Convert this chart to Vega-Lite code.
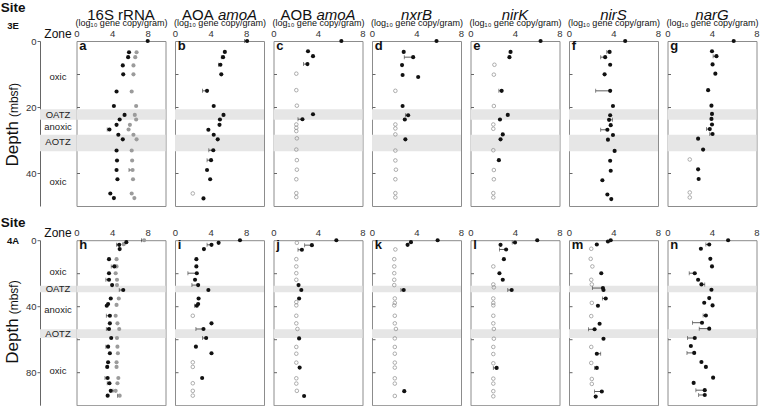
{
"$schema":"https://vega.github.io/schema/vega-lite/v6.json",
"padding":{"left":0,"top":0,"right":0,"bottom":0},
"datasets":{
"bands":[{"s":"3E","y1":20.7,"y2":23.9},{"s":"3E","y1":28.4,"y2":33.4},{"s":"4A","y1":27.6,"y2":31.5},{"s":"4A","y1":54,"y2":59.3}],
"zones":[{"s":"3E","z":"oxic","d":11},{"s":"3E","z":"OATZ","d":22.4},{"s":"3E","z":"anoxic","d":26.2},{"s":"3E","z":"AOTZ","d":30.5},{"s":"3E","z":"oxic","d":42.7},
{"s":"4A","z":"oxic","d":19.4},{"s":"4A","z":"OATZ","d":29.6},{"s":"4A","z":"anoxic","d":42.3},{"s":"4A","z":"AOTZ","d":56.9},{"s":"4A","z":"oxic","d":79.4}],
"pts":[
{"s":"3E","g":"16S","k":"d","d":0,"v":8.0},{"s":"3E","g":"16S","k":"d","d":3.4,"v":5.9},{"s":"3E","g":"16S","k":"d","d":4.9,"v":5.8},{"s":"3E","g":"16S","k":"d","d":7.4,"v":5.2},{"s":"3E","g":"16S","k":"d","d":10.1,"v":5.25},{"s":"3E","g":"16S","k":"d","d":15.3,"v":4.5},{"s":"3E","g":"16S","k":"d","d":19.7,"v":4.2},{"s":"3E","g":"16S","k":"d","d":22.4,"v":5.4},{"s":"3E","g":"16S","k":"d","d":23.8,"v":4.85},{"s":"3E","g":"16S","k":"d","d":25.4,"v":4.5},{"s":"3E","g":"16S","k":"d","d":26.8,"v":3.7,"lo":3.45},{"s":"3E","g":"16S","k":"d","d":28.4,"v":4.7},{"s":"3E","g":"16S","k":"d","d":29.8,"v":5.2},{"s":"3E","g":"16S","k":"d","d":33.2,"v":4.5},{"s":"3E","g":"16S","k":"d","d":36.2,"v":4.55},{"s":"3E","g":"16S","k":"d","d":39.1,"v":4.5},{"s":"3E","g":"16S","k":"d","d":41.9,"v":4.6},{"s":"3E","g":"16S","k":"d","d":46.2,"v":3.8},{"s":"3E","g":"16S","k":"d","d":47.6,"v":4.2},
{"s":"3E","g":"16S","k":"a","d":3.4,"v":6.75},{"s":"3E","g":"16S","k":"a","d":4.9,"v":6.6},{"s":"3E","g":"16S","k":"a","d":7.4,"v":6.4},{"s":"3E","g":"16S","k":"a","d":10.1,"v":6.4},{"s":"3E","g":"16S","k":"a","d":15.3,"v":6.2},{"s":"3E","g":"16S","k":"a","d":19.7,"v":6.7},{"s":"3E","g":"16S","k":"a","d":22.4,"v":6.55},{"s":"3E","g":"16S","k":"a","d":23.8,"v":6.7},{"s":"3E","g":"16S","k":"a","d":25.4,"v":6.0},{"s":"3E","g":"16S","k":"a","d":26.8,"v":5.85},{"s":"3E","g":"16S","k":"a","d":28.4,"v":6.4},{"s":"3E","g":"16S","k":"a","d":29.8,"v":6.75},{"s":"3E","g":"16S","k":"a","d":33.2,"v":6.2},{"s":"3E","g":"16S","k":"a","d":36.2,"v":6.25},{"s":"3E","g":"16S","k":"a","d":39.1,"v":6.3,"lo":5.9},{"s":"3E","g":"16S","k":"a","d":41.9,"v":6.35},{"s":"3E","g":"16S","k":"a","d":46.2,"v":6.2},{"s":"3E","g":"16S","k":"a","d":47.6,"v":6.5},
{"s":"3E","g":"AOA","k":"d","d":0,"v":8.1,"lo":7.8},{"s":"3E","g":"AOA","k":"d","d":3.3,"v":5.6},{"s":"3E","g":"AOA","k":"d","d":4.9,"v":5.4,"lo":5.2},{"s":"3E","g":"AOA","k":"d","d":7.2,"v":5.1,"lo":4.9},{"s":"3E","g":"AOA","k":"d","d":10.1,"v":5.2},{"s":"3E","g":"AOA","k":"d","d":15.1,"v":3.6,"lo":3.1},{"s":"3E","g":"AOA","k":"d","d":19.7,"v":4.35},{"s":"3E","g":"AOA","k":"d","d":22.4,"v":5.45},{"s":"3E","g":"AOA","k":"d","d":23.8,"v":5.05},{"s":"3E","g":"AOA","k":"d","d":25.4,"v":5.0},{"s":"3E","g":"AOA","k":"d","d":26.9,"v":3.75},{"s":"3E","g":"AOA","k":"d","d":28.4,"v":4.35},{"s":"3E","g":"AOA","k":"d","d":29.8,"v":4.8},{"s":"3E","g":"AOA","k":"d","d":33.1,"v":4.3,"lo":3.8},{"s":"3E","g":"AOA","k":"d","d":36.1,"v":4.05,"lo":3.6},{"s":"3E","g":"AOA","k":"d","d":39.1,"v":3.6},{"s":"3E","g":"AOA","k":"d","d":41.9,"v":3.95},{"s":"3E","g":"AOA","k":"n","d":46.2,"v":2.0},{"s":"3E","g":"AOA","k":"d","d":47.7,"v":3.2},
{"s":"3E","g":"AOB","k":"d","d":0,"v":6.1},{"s":"3E","g":"AOB","k":"d","d":3.1,"v":3.1},{"s":"3E","g":"AOB","k":"d","d":4.6,"v":3.55},{"s":"3E","g":"AOB","k":"d","d":7.0,"v":3.05,"lo":2.7},{"s":"3E","g":"AOB","k":"n","d":9.9,"v":2.05},{"s":"3E","g":"AOB","k":"n","d":14.9,"v":2.05},{"s":"3E","g":"AOB","k":"n","d":19.6,"v":2.1},{"s":"3E","g":"AOB","k":"d","d":22.2,"v":3.55},{"s":"3E","g":"AOB","k":"d","d":23.7,"v":2.6,"lo":2.2},{"s":"3E","g":"AOB","k":"n","d":25.3,"v":2.05},{"s":"3E","g":"AOB","k":"n","d":26.3,"v":2.05},{"s":"3E","g":"AOB","k":"n","d":27.3,"v":2.05},{"s":"3E","g":"AOB","k":"n","d":29.5,"v":2.1},{"s":"3E","g":"AOB","k":"n","d":32.9,"v":2.05},{"s":"3E","g":"AOB","k":"n","d":36.1,"v":2.1},{"s":"3E","g":"AOB","k":"n","d":39.0,"v":2.1},{"s":"3E","g":"AOB","k":"n","d":41.9,"v":2.05},{"s":"3E","g":"AOB","k":"n","d":46.1,"v":2.05},{"s":"3E","g":"AOB","k":"n","d":47.3,"v":2.05},
{"s":"3E","g":"nxrB","k":"d","d":0,"v":5.8},{"s":"3E","g":"nxrB","k":"d","d":3.3,"v":2.85},{"s":"3E","g":"nxrB","k":"d","d":4.9,"v":3.7,"lo":2.9},{"s":"3E","g":"nxrB","k":"d","d":7.3,"v":2.7},{"s":"3E","g":"nxrB","k":"d","d":10.3,"v":2.75},{"s":"3E","g":"nxrB","k":"d","d":10.9,"v":4.15},{"s":"3E","g":"nxrB","k":"n","d":15.1,"v":2.1},{"s":"3E","g":"nxrB","k":"d","d":19.7,"v":2.75},{"s":"3E","g":"nxrB","k":"d","d":22.5,"v":3.25,"lo":3.0},{"s":"3E","g":"nxrB","k":"d","d":23.8,"v":2.95},{"s":"3E","g":"nxrB","k":"n","d":25.3,"v":2.1},{"s":"3E","g":"nxrB","k":"n","d":26.5,"v":2.1},{"s":"3E","g":"nxrB","k":"n","d":28.3,"v":2.1},{"s":"3E","g":"nxrB","k":"d","d":29.8,"v":3.0},{"s":"3E","g":"nxrB","k":"n","d":33.2,"v":2.1},{"s":"3E","g":"nxrB","k":"n","d":36.2,"v":2.1},{"s":"3E","g":"nxrB","k":"n","d":39.0,"v":2.15},{"s":"3E","g":"nxrB","k":"n","d":41.9,"v":2.1},{"s":"3E","g":"nxrB","k":"n","d":46.1,"v":2.1},{"s":"3E","g":"nxrB","k":"n","d":47.4,"v":2.1},
{"s":"3E","g":"nirK","k":"d","d":0,"v":6.3},{"s":"3E","g":"nirK","k":"d","d":3.3,"v":3.6},{"s":"3E","g":"nirK","k":"d","d":4.9,"v":3.5},{"s":"3E","g":"nirK","k":"n","d":7.2,"v":2.15},{"s":"3E","g":"nirK","k":"n","d":10.2,"v":2.1},{"s":"3E","g":"nirK","k":"d","d":15.1,"v":2.8,"lo":2.55},{"s":"3E","g":"nirK","k":"n","d":19.7,"v":2.1},{"s":"3E","g":"nirK","k":"d","d":22.4,"v":3.35},{"s":"3E","g":"nirK","k":"d","d":23.8,"v":2.65},{"s":"3E","g":"nirK","k":"n","d":25.3,"v":2.05},{"s":"3E","g":"nirK","k":"n","d":26.6,"v":2.05},{"s":"3E","g":"nirK","k":"d","d":28.3,"v":2.9},{"s":"3E","g":"nirK","k":"d","d":29.8,"v":2.7},{"s":"3E","g":"nirK","k":"n","d":33.1,"v":2.05},{"s":"3E","g":"nirK","k":"d","d":36.1,"v":2.55},{"s":"3E","g":"nirK","k":"n","d":39.1,"v":2.1},{"s":"3E","g":"nirK","k":"n","d":41.9,"v":2.1},{"s":"3E","g":"nirK","k":"n","d":46.1,"v":2.05},{"s":"3E","g":"nirK","k":"n","d":47.4,"v":2.05},
{"s":"3E","g":"nirS","k":"d","d":0,"v":5.05},{"s":"3E","g":"nirS","k":"d","d":3.3,"v":3.65,"lo":3.4},{"s":"3E","g":"nirS","k":"d","d":4.9,"v":3.25,"lo":2.85},{"s":"3E","g":"nirS","k":"d","d":7.2,"v":3.7},{"s":"3E","g":"nirS","k":"d","d":10.1,"v":3.2},{"s":"3E","g":"nirS","k":"d","d":15.1,"v":3.7,"lo":2.4},{"s":"3E","g":"nirS","k":"d","d":19.7,"v":3.95},{"s":"3E","g":"nirS","k":"d","d":22.5,"v":3.7},{"s":"3E","g":"nirS","k":"d","d":23.9,"v":3.6,"lo":3.9},{"s":"3E","g":"nirS","k":"d","d":25.5,"v":3.75},{"s":"3E","g":"nirS","k":"d","d":26.9,"v":3.45,"lo":2.85},{"s":"3E","g":"nirS","k":"d","d":28.5,"v":3.95},{"s":"3E","g":"nirS","k":"d","d":29.9,"v":3.5},{"s":"3E","g":"nirS","k":"d","d":33.3,"v":4.1},{"s":"3E","g":"nirS","k":"d","d":36.3,"v":3.7},{"s":"3E","g":"nirS","k":"d","d":39.3,"v":3.75},{"s":"3E","g":"nirS","k":"d","d":42.2,"v":3.0},{"s":"3E","g":"nirS","k":"d","d":46.5,"v":3.45},{"s":"3E","g":"nirS","k":"d","d":47.9,"v":3.8},
{"s":"3E","g":"narG","k":"d","d":0,"v":5.95},{"s":"3E","g":"narG","k":"d","d":3.1,"v":4.0},{"s":"3E","g":"narG","k":"d","d":4.6,"v":4.4,"lo":4.1},{"s":"3E","g":"narG","k":"d","d":7.1,"v":4.05},{"s":"3E","g":"narG","k":"d","d":9.9,"v":4.3},{"s":"3E","g":"narG","k":"d","d":14.9,"v":3.65},{"s":"3E","g":"narG","k":"d","d":19.6,"v":3.95},{"s":"3E","g":"narG","k":"d","d":22.1,"v":4.0},{"s":"3E","g":"narG","k":"d","d":23.6,"v":3.95},{"s":"3E","g":"narG","k":"d","d":25.3,"v":4.0},{"s":"3E","g":"narG","k":"d","d":26.7,"v":3.8,"lo":3.5},{"s":"3E","g":"narG","k":"d","d":28.2,"v":4.05,"lo":3.8},{"s":"3E","g":"narG","k":"d","d":29.6,"v":2.75},{"s":"3E","g":"narG","k":"d","d":32.9,"v":3.2},{"s":"3E","g":"narG","k":"n","d":35.9,"v":2.0},{"s":"3E","g":"narG","k":"d","d":38.9,"v":2.75},{"s":"3E","g":"narG","k":"d","d":41.8,"v":2.8},{"s":"3E","g":"narG","k":"n","d":45.9,"v":2.0},{"s":"3E","g":"narG","k":"n","d":47.4,"v":2.0},
{"s":"4A","g":"16S","k":"d","d":1.2,"v":5.6},{"s":"4A","g":"16S","k":"d","d":2.8,"v":4.8,"lo":4.5},{"s":"4A","g":"16S","k":"d","d":5.4,"v":4.85},{"s":"4A","g":"16S","k":"d","d":11.5,"v":3.65},{"s":"4A","g":"16S","k":"d","d":15.9,"v":4.25,"lo":3.9},{"s":"4A","g":"16S","k":"d","d":20,"v":3.65},{"s":"4A","g":"16S","k":"d","d":24,"v":3.65,"lo":3.3},{"s":"4A","g":"16S","k":"d","d":27.2,"v":4.0},{"s":"4A","g":"16S","k":"d","d":30.2,"v":5.25,"lo":4.8},{"s":"4A","g":"16S","k":"d","d":35.3,"v":3.85},{"s":"4A","g":"16S","k":"d","d":38.7,"v":3.55},{"s":"4A","g":"16S","k":"d","d":39.7,"v":3.4},{"s":"4A","g":"16S","k":"d","d":45.8,"v":3.75,"lo":3.35},{"s":"4A","g":"16S","k":"d","d":50.4,"v":3.75},{"s":"4A","g":"16S","k":"d","d":53.8,"v":3.65,"lo":3.35},{"s":"4A","g":"16S","k":"d","d":59.3,"v":3.9},{"s":"4A","g":"16S","k":"d","d":64.5,"v":3.55,"lo":3.3},{"s":"4A","g":"16S","k":"d","d":68.5,"v":3.75},{"s":"4A","g":"16S","k":"d","d":74,"v":3.55},{"s":"4A","g":"16S","k":"d","d":76.8,"v":3.45},{"s":"4A","g":"16S","k":"d","d":83.5,"v":3.5,"lo":3.2},{"s":"4A","g":"16S","k":"d","d":86.7,"v":3.7,"lo":3.45},{"s":"4A","g":"16S","k":"d","d":91.3,"v":3.85},{"s":"4A","g":"16S","k":"d","d":94.2,"v":3.5},
{"s":"4A","g":"16S","k":"a","d":0,"v":7.6,"lo":7.3},{"s":"4A","g":"16S","k":"a","d":2.4,"v":5.3},{"s":"4A","g":"16S","k":"a","d":11.5,"v":4.5},{"s":"4A","g":"16S","k":"a","d":15.9,"v":4.5},{"s":"4A","g":"16S","k":"a","d":20,"v":4.4},{"s":"4A","g":"16S","k":"a","d":24,"v":4.55},{"s":"4A","g":"16S","k":"a","d":27.2,"v":4.55},{"s":"4A","g":"16S","k":"a","d":35.3,"v":4.75},{"s":"4A","g":"16S","k":"a","d":39.2,"v":4.5},{"s":"4A","g":"16S","k":"a","d":45.8,"v":4.4},{"s":"4A","g":"16S","k":"a","d":50.4,"v":4.6},{"s":"4A","g":"16S","k":"a","d":53.8,"v":4.8},{"s":"4A","g":"16S","k":"a","d":59.3,"v":4.55},{"s":"4A","g":"16S","k":"a","d":64.5,"v":4.6},{"s":"4A","g":"16S","k":"a","d":68.5,"v":4.65},{"s":"4A","g":"16S","k":"a","d":74,"v":4.5},{"s":"4A","g":"16S","k":"a","d":76.8,"v":4.5},{"s":"4A","g":"16S","k":"a","d":83.5,"v":4.7},{"s":"4A","g":"16S","k":"a","d":86.7,"v":4.6},{"s":"4A","g":"16S","k":"a","d":91.3,"v":4.4,"lo":4.1},{"s":"4A","g":"16S","k":"a","d":94.2,"v":4.85,"lo":4.6},
{"s":"4A","g":"AOA","k":"d","d":0,"v":7.3},{"s":"4A","g":"AOA","k":"d","d":1.6,"v":4.9},{"s":"4A","g":"AOA","k":"d","d":2.8,"v":4.1,"lo":3.6},{"s":"4A","g":"AOA","k":"d","d":5.4,"v":3.25},{"s":"4A","g":"AOA","k":"d","d":11.5,"v":2.4},{"s":"4A","g":"AOA","k":"d","d":15.9,"v":2.4},{"s":"4A","g":"AOA","k":"d","d":20,"v":2.45,"lo":1.45},{"s":"4A","g":"AOA","k":"d","d":24,"v":2.25},{"s":"4A","g":"AOA","k":"d","d":27.2,"v":2.6,"lo":1.9},{"s":"4A","g":"AOA","k":"d","d":30.2,"v":3.75},{"s":"4A","g":"AOA","k":"d","d":35.3,"v":2.65},{"s":"4A","g":"AOA","k":"d","d":38.7,"v":2.6},{"s":"4A","g":"AOA","k":"d","d":39.7,"v":2.45,"lo":2.2},{"s":"4A","g":"AOA","k":"n","d":45.8,"v":2.0},{"s":"4A","g":"AOA","k":"d","d":50.4,"v":4.1},{"s":"4A","g":"AOA","k":"d","d":53.8,"v":3.2,"lo":2.35},{"s":"4A","g":"AOA","k":"d","d":59.3,"v":3.5,"lo":3.1},{"s":"4A","g":"AOA","k":"d","d":64.5,"v":2.35},{"s":"4A","g":"AOA","k":"d","d":68.5,"v":4.1},{"s":"4A","g":"AOA","k":"n","d":74,"v":2.0},{"s":"4A","g":"AOA","k":"n","d":76.8,"v":2.0},{"s":"4A","g":"AOA","k":"d","d":83.5,"v":3.05},{"s":"4A","g":"AOA","k":"n","d":86.7,"v":2.0},{"s":"4A","g":"AOA","k":"n","d":91.3,"v":2.0},{"s":"4A","g":"AOA","k":"n","d":94.2,"v":2.0},
{"s":"4A","g":"AOB","k":"d","d":0,"v":5.65},{"s":"4A","g":"AOB","k":"n","d":1.6,"v":2.1},{"s":"4A","g":"AOB","k":"d","d":3.0,"v":3.45,"lo":2.8},{"s":"4A","g":"AOB","k":"d","d":5.8,"v":2.55,"lo":2.2},{"s":"4A","g":"AOB","k":"n","d":11.5,"v":2.05},{"s":"4A","g":"AOB","k":"n","d":15.9,"v":2.05},{"s":"4A","g":"AOB","k":"n","d":20,"v":2.05},{"s":"4A","g":"AOB","k":"n","d":24,"v":2.05},{"s":"4A","g":"AOB","k":"d","d":27.2,"v":2.25},{"s":"4A","g":"AOB","k":"d","d":30.2,"v":2.5},{"s":"4A","g":"AOB","k":"d","d":35.3,"v":2.3},{"s":"4A","g":"AOB","k":"n","d":37.5,"v":2.05},{"s":"4A","g":"AOB","k":"n","d":39.5,"v":2.05},{"s":"4A","g":"AOB","k":"n","d":45.8,"v":2.05},{"s":"4A","g":"AOB","k":"n","d":50.4,"v":2.05},{"s":"4A","g":"AOB","k":"n","d":53.8,"v":2.15},{"s":"4A","g":"AOB","k":"d","d":59.5,"v":2.3},{"s":"4A","g":"AOB","k":"n","d":64.7,"v":2.05},{"s":"4A","g":"AOB","k":"n","d":68.8,"v":2.05},{"s":"4A","g":"AOB","k":"n","d":74.2,"v":2.05},{"s":"4A","g":"AOB","k":"d","d":77.2,"v":2.35},{"s":"4A","g":"AOB","k":"n","d":83.7,"v":2.05},{"s":"4A","g":"AOB","k":"n","d":86.9,"v":2.05},{"s":"4A","g":"AOB","k":"n","d":91.3,"v":2.1},{"s":"4A","g":"AOB","k":"d","d":94.4,"v":2.75},
{"s":"4A","g":"nxrB","k":"d","d":0,"v":5.9},{"s":"4A","g":"nxrB","k":"d","d":1.2,"v":3.5},{"s":"4A","g":"nxrB","k":"d","d":2.8,"v":3.2},{"s":"4A","g":"nxrB","k":"n","d":5.6,"v":2.1},{"s":"4A","g":"nxrB","k":"n","d":11.5,"v":2.0},{"s":"4A","g":"nxrB","k":"n","d":15.9,"v":2.0},{"s":"4A","g":"nxrB","k":"n","d":20,"v":2.0},{"s":"4A","g":"nxrB","k":"n","d":24,"v":2.0},{"s":"4A","g":"nxrB","k":"n","d":27.2,"v":2.0},{"s":"4A","g":"nxrB","k":"d","d":30.2,"v":2.85,"lo":2.6},{"s":"4A","g":"nxrB","k":"n","d":35.3,"v":2.05},{"s":"4A","g":"nxrB","k":"n","d":38,"v":2.05},{"s":"4A","g":"nxrB","k":"n","d":39.5,"v":2.0},{"s":"4A","g":"nxrB","k":"n","d":45.8,"v":2.05},{"s":"4A","g":"nxrB","k":"n","d":50.4,"v":2.05},{"s":"4A","g":"nxrB","k":"n","d":53.8,"v":2.15},{"s":"4A","g":"nxrB","k":"n","d":59.5,"v":2.05},{"s":"4A","g":"nxrB","k":"n","d":64.7,"v":2.05},{"s":"4A","g":"nxrB","k":"n","d":68.8,"v":2.05},{"s":"4A","g":"nxrB","k":"n","d":74.2,"v":2.05},{"s":"4A","g":"nxrB","k":"n","d":77.2,"v":2.05},{"s":"4A","g":"nxrB","k":"n","d":83.7,"v":2.05},{"s":"4A","g":"nxrB","k":"n","d":86.9,"v":2.05},{"s":"4A","g":"nxrB","k":"d","d":91.5,"v":2.9},{"s":"4A","g":"nxrB","k":"n","d":94.4,"v":2.05},
{"s":"4A","g":"nirK","k":"d","d":0,"v":6.0},{"s":"4A","g":"nirK","k":"d","d":1.4,"v":4.0,"lo":3.75},{"s":"4A","g":"nirK","k":"d","d":2.8,"v":2.7},{"s":"4A","g":"nirK","k":"d","d":5.6,"v":3.2,"lo":2.6},{"s":"4A","g":"nirK","k":"d","d":11.5,"v":3.0},{"s":"4A","g":"nirK","k":"n","d":15.9,"v":2.05},{"s":"4A","g":"nirK","k":"d","d":20,"v":2.6},{"s":"4A","g":"nirK","k":"d","d":24,"v":2.9},{"s":"4A","g":"nirK","k":"n","d":26.8,"v":2.05},{"s":"4A","g":"nirK","k":"n","d":28.6,"v":2.1},{"s":"4A","g":"nirK","k":"d","d":30.2,"v":3.7,"lo":3.35},{"s":"4A","g":"nirK","k":"n","d":35.3,"v":2.05},{"s":"4A","g":"nirK","k":"n","d":38,"v":2.05},{"s":"4A","g":"nirK","k":"n","d":39.5,"v":2.05},{"s":"4A","g":"nirK","k":"n","d":45.8,"v":2.05},{"s":"4A","g":"nirK","k":"n","d":50.4,"v":2.05},{"s":"4A","g":"nirK","k":"n","d":53.8,"v":2.1},{"s":"4A","g":"nirK","k":"n","d":59.7,"v":2.1},{"s":"4A","g":"nirK","k":"n","d":64.7,"v":2.05},{"s":"4A","g":"nirK","k":"n","d":69,"v":2.05},{"s":"4A","g":"nirK","k":"n","d":74.6,"v":2.05},{"s":"4A","g":"nirK","k":"d","d":77.4,"v":2.35,"lo":2.05},{"s":"4A","g":"nirK","k":"n","d":83.9,"v":2.05},{"s":"4A","g":"nirK","k":"n","d":86.9,"v":2.05},{"s":"4A","g":"nirK","k":"n","d":91.5,"v":2.05},{"s":"4A","g":"nirK","k":"n","d":94.6,"v":2.05},
{"s":"4A","g":"nirS","k":"d","d":0,"v":3.75},{"s":"4A","g":"nirS","k":"d","d":0.8,"v":3.5},{"s":"4A","g":"nirS","k":"d","d":2.6,"v":2.5},{"s":"4A","g":"nirS","k":"n","d":5.2,"v":2.0},{"s":"4A","g":"nirS","k":"n","d":11.3,"v":1.95},{"s":"4A","g":"nirS","k":"n","d":15.9,"v":2.1},{"s":"4A","g":"nirS","k":"d","d":20,"v":2.9},{"s":"4A","g":"nirS","k":"n","d":24,"v":2.0},{"s":"4A","g":"nirS","k":"n","d":26.8,"v":2.05},{"s":"4A","g":"nirS","k":"d","d":29,"v":3.05,"lo":2.1},{"s":"4A","g":"nirS","k":"d","d":30.2,"v":3.1},{"s":"4A","g":"nirS","k":"d","d":35.3,"v":3.3,"lo":3.0},{"s":"4A","g":"nirS","k":"n","d":38,"v":2.05},{"s":"4A","g":"nirS","k":"d","d":39.7,"v":2.6},{"s":"4A","g":"nirS","k":"n","d":46,"v":2.0},{"s":"4A","g":"nirS","k":"d","d":50.6,"v":2.75},{"s":"4A","g":"nirS","k":"d","d":54,"v":2.3,"lo":1.75},{"s":"4A","g":"nirS","k":"d","d":59.7,"v":3.1},{"s":"4A","g":"nirS","k":"n","d":64.7,"v":2.0},{"s":"4A","g":"nirS","k":"d","d":68.8,"v":2.5,"lo":2.85},{"s":"4A","g":"nirS","k":"n","d":74.4,"v":2.0},{"s":"4A","g":"nirS","k":"d","d":77.4,"v":2.5,"lo":2.3},{"s":"4A","g":"nirS","k":"n","d":84.1,"v":2.05},{"s":"4A","g":"nirS","k":"n","d":87.1,"v":2.05},{"s":"4A","g":"nirS","k":"d","d":91.7,"v":2.95,"lo":2.3},{"s":"4A","g":"nirS","k":"d","d":94.8,"v":2.4},
{"s":"4A","g":"narG","k":"d","d":0,"v":5.45},{"s":"4A","g":"narG","k":"d","d":2.6,"v":3.75,"lo":3.45},{"s":"4A","g":"narG","k":"d","d":5.2,"v":3.0},{"s":"4A","g":"narG","k":"d","d":11.3,"v":3.85},{"s":"4A","g":"narG","k":"d","d":15.9,"v":4.0},{"s":"4A","g":"narG","k":"d","d":20,"v":2.45,"lo":1.95},{"s":"4A","g":"narG","k":"d","d":24,"v":2.75},{"s":"4A","g":"narG","k":"d","d":26.8,"v":3.05,"lo":3.35},{"s":"4A","g":"narG","k":"d","d":30,"v":3.95},{"s":"4A","g":"narG","k":"d","d":35.1,"v":3.75},{"s":"4A","g":"narG","k":"d","d":37.9,"v":3.3},{"s":"4A","g":"narG","k":"d","d":39.5,"v":4.05},{"s":"4A","g":"narG","k":"d","d":45.6,"v":3.45,"lo":3.2},{"s":"4A","g":"narG","k":"d","d":50,"v":3.1,"lo":2.25},{"s":"4A","g":"narG","k":"d","d":53.6,"v":3.75,"lo":2.85},{"s":"4A","g":"narG","k":"d","d":59.3,"v":2.45,"lo":1.8},{"s":"4A","g":"narG","k":"d","d":64.1,"v":2.1},{"s":"4A","g":"narG","k":"d","d":68.3,"v":2.4,"lo":1.75},{"s":"4A","g":"narG","k":"d","d":73.8,"v":3.05},{"s":"4A","g":"narG","k":"d","d":76.8,"v":3.45},{"s":"4A","g":"narG","k":"d","d":83.3,"v":4.1},{"s":"4A","g":"narG","k":"d","d":86.5,"v":2.35},{"s":"4A","g":"narG","k":"d","d":90.9,"v":3.35,"lo":2.55},{"s":"4A","g":"narG","k":"d","d":93.8,"v":3.35,"lo":2.8}
]},
"columns":8,
"spacing":{"row":34.2,"column":9.5},
"bounds":"flush",
"concat":[
  {"width":26.5,"height":165,"view":{"stroke":null},
   "title":{"text":"Site","subtitle":"3E","anchor":"start","frame":"group","align":"center","dx":-27,"fontSize":13.5,"fontWeight":"bold","color":"#111","subtitleFontSize":9.5,"subtitleFontWeight":"bold","subtitleColor":"#111","subtitlePadding":6.4,"offset":-3.1},
   "layer":[
    {"data":{"name":"bands"},"transform":[{"filter":"datum.s=='3E'"}],"mark":{"type":"rect","color":"#e6e6e6"},
     "encoding":{"x":{"datum":0,"type":"quantitative","scale":{"domain":[0,1],"nice":false,"zero":false},"axis":{"orient":"top","labels":false,"ticks":false,"domain":false,"labelPadding":0,"title":"Zone","titleFontSize":12,"titlePadding":1,"titleX":17.5}},"x2":{"datum":1.36},"y":{"field":"y1","type":"quantitative","scale":{"domain":[0,50],"reverse":true,"nice":false,"zero":false},"axis":{"values":[0,10,20,30,40,50],"labels":true,"domain":true,"ticks":true,"tickSize":3,"labelPadding":1,"title":"Depth","titleFontSize":17,"titleFontWeight":"normal","titleAngle":270,"titleAlign":"left","titleBaseline":"alphabetic","titleX":-23,"titleY":125}},"y2":{"field":"y2"}}},
    {"data":{"name":"zones"},"transform":[{"filter":"datum.s=='3E'"}],"mark":{"type":"text","fontSize":9.5,"color":"#222"},
     "encoding":{"y":{"field":"d","type":"quantitative"},"text":{"field":"z"},"x":{"datum":0.68,"type":"quantitative"}}}
   ]},
  {"width":89,"height":165,"title":{"text":"16S rRNA","fontSize":15,"fontWeight":"normal","color":"#111","offset":-3.9},
   "layer":[
    {"data":{"name":"bands"},"transform":[{"filter":"datum.s=='3E'"}],"mark":{"type":"rect","color":"#e6e6e6"},"encoding":{"y":{"field":"y1","type":"quantitative","scale":{"domain":[0,50],"reverse":true,"nice":false,"zero":false},"axis":{"values":[10,20,30,40],"title":"(mbsf)","titleFontSize":12,"titleFontWeight":"normal","titleAngle":270,"titleAlign":"left","titleBaseline":"alphabetic","titleX":-59,"titleY":75.6}},"y2":{"field":"y2"}}},
    {"data":{"name":"pts"},"transform":[{"filter":"datum.s=='3E'&&datum.g=='16S'&&isValid(datum.lo)"}],"mark":{"type":"rule","color":"#333","strokeWidth":0.8},"encoding":{"x":{"field":"lo","type":"quantitative","scale":{"domain":[0,10],"nice":false,"zero":false},"axis":{"orient":"top","values":[0,2,4,6,8,10],"title":"(log₁₀ gene copy/gram)"}},"x2":{"field":"v"},"y":{"field":"d","type":"quantitative"}}},
    {"data":{"name":"pts"},"transform":[{"filter":"datum.s=='3E'&&datum.g=='16S'&&isValid(datum.lo)"}],"mark":{"type":"tick","orient":"vertical","size":4,"thickness":0.8,"color":"#333"},"encoding":{"x":{"field":"lo","type":"quantitative"},"y":{"field":"d","type":"quantitative"}}},
    {"data":{"name":"pts"},"transform":[{"filter":"datum.s=='3E'&&datum.g=='16S'&&datum.k=='a'"}],"mark":{"type":"circle","size":17,"color":"#9b9b9b","opacity":1},"encoding":{"x":{"field":"v","type":"quantitative"},"y":{"field":"d","type":"quantitative"}}},
    {"data":{"name":"pts"},"transform":[{"filter":"datum.s=='3E'&&datum.g=='16S'&&datum.k=='d'"}],"mark":{"type":"circle","size":17,"color":"#111","opacity":1},"encoding":{"x":{"field":"v","type":"quantitative"},"y":{"field":"d","type":"quantitative"}}},
    {"data":{"values":[{}]},"mark":{"type":"text","text":"a","fontSize":13,"fontWeight":"bold","align":"left","baseline":"alphabetic","color":"#111"},"encoding":{"x":{"datum":0.31,"type":"quantitative"},"y":{"datum":2.6,"type":"quantitative"}}}
   ]},
 {"width":89,"height":165,
  "layer":[
   {"data":{"name":"bands"},"transform":[{"filter":"datum.s=='3E'"}],"mark":{"type":"rect","color":"#e6e6e6"},"encoding":{"y":{"field":"y1","type":"quantitative","scale":{"domain":[0,50],"reverse":true,"nice":false,"zero":false},"axis":{"values":[10,20,30,40],"title":null}},"y2":{"field":"y2"}}},
   {"data":{"name":"pts"},"transform":[{"filter":"datum.s=='3E'&&datum.g=='AOA'&&isValid(datum.lo)"}],"mark":{"type":"rule","color":"#333","strokeWidth":0.8},"encoding":{"x":{"field":"lo","type":"quantitative","scale":{"domain":[0,10],"nice":false,"zero":false},"axis":{"orient":"top","values":[0,2,4,6,8,10],"title":"(log₁₀ gene copy/gram)"}},"x2":{"field":"v"},"y":{"field":"d","type":"quantitative"}}},
   {"data":{"name":"pts"},"transform":[{"filter":"datum.s=='3E'&&datum.g=='AOA'&&isValid(datum.lo)"}],"mark":{"type":"tick","orient":"vertical","size":4,"thickness":0.8,"color":"#333"},"encoding":{"x":{"field":"lo","type":"quantitative"},"y":{"field":"d","type":"quantitative"}}},
   {"data":{"name":"pts"},"transform":[{"filter":"datum.s=='3E'&&datum.g=='AOA'&&datum.k=='n'"}],"mark":{"type":"point","shape":"circle","filled":false,"size":13,"stroke":"#8c8c8c","strokeWidth":0.7,"opacity":1},"encoding":{"x":{"field":"v","type":"quantitative"},"y":{"field":"d","type":"quantitative"}}},
   {"data":{"name":"pts"},"transform":[{"filter":"datum.s=='3E'&&datum.g=='AOA'&&datum.k=='d'"}],"mark":{"type":"circle","size":17,"color":"#111","opacity":1},"encoding":{"x":{"field":"v","type":"quantitative"},"y":{"field":"d","type":"quantitative"}}},
   {"data":{"values":[{}]},"mark":{"type":"text","text":"b","fontSize":13,"fontWeight":"bold","align":"left","baseline":"alphabetic","color":"#111"},"encoding":{"x":{"datum":0.31,"type":"quantitative"},"y":{"datum":2.6,"type":"quantitative"}}},
   {"data":{"values":[{}]},"mark":{"type":"text","text":"AOA","fontSize":15,"align":"left","baseline":"alphabetic","color":"#111"},"encoding":{"x":{"datum":0.79,"type":"quantitative"},"y":{"datum":-6.5,"type":"quantitative"}}},
   {"data":{"values":[{}]},"mark":{"type":"text","text":"amoA","fontSize":15,"fontStyle":"italic","align":"left","baseline":"alphabetic","color":"#111"},"encoding":{"x":{"datum":4.82,"type":"quantitative"},"y":{"datum":-6.5,"type":"quantitative"}}}
  ]},
 {"width":89,"height":165,
  "layer":[
   {"data":{"name":"bands"},"transform":[{"filter":"datum.s=='3E'"}],"mark":{"type":"rect","color":"#e6e6e6"},"encoding":{"y":{"field":"y1","type":"quantitative","scale":{"domain":[0,50],"reverse":true,"nice":false,"zero":false},"axis":{"values":[10,20,30,40],"title":null}},"y2":{"field":"y2"}}},
   {"data":{"name":"pts"},"transform":[{"filter":"datum.s=='3E'&&datum.g=='AOB'&&isValid(datum.lo)"}],"mark":{"type":"rule","color":"#333","strokeWidth":0.8},"encoding":{"x":{"field":"lo","type":"quantitative","scale":{"domain":[0,8],"nice":false,"zero":false},"axis":{"orient":"top","values":[0,2,4,6,8],"title":"(log₁₀ gene copy/gram)"}},"x2":{"field":"v"},"y":{"field":"d","type":"quantitative"}}},
   {"data":{"name":"pts"},"transform":[{"filter":"datum.s=='3E'&&datum.g=='AOB'&&isValid(datum.lo)"}],"mark":{"type":"tick","orient":"vertical","size":4,"thickness":0.8,"color":"#333"},"encoding":{"x":{"field":"lo","type":"quantitative"},"y":{"field":"d","type":"quantitative"}}},
   {"data":{"name":"pts"},"transform":[{"filter":"datum.s=='3E'&&datum.g=='AOB'&&datum.k=='n'"}],"mark":{"type":"point","shape":"circle","filled":false,"size":13,"stroke":"#8c8c8c","strokeWidth":0.7,"opacity":1},"encoding":{"x":{"field":"v","type":"quantitative"},"y":{"field":"d","type":"quantitative"}}},
   {"data":{"name":"pts"},"transform":[{"filter":"datum.s=='3E'&&datum.g=='AOB'&&datum.k=='d'"}],"mark":{"type":"circle","size":17,"color":"#111","opacity":1},"encoding":{"x":{"field":"v","type":"quantitative"},"y":{"field":"d","type":"quantitative"}}},
   {"data":{"values":[{}]},"mark":{"type":"text","text":"c","fontSize":13,"fontWeight":"bold","align":"left","baseline":"alphabetic","color":"#111"},"encoding":{"x":{"datum":0.25,"type":"quantitative"},"y":{"datum":2.6,"type":"quantitative"}}},
   {"data":{"values":[{}]},"mark":{"type":"text","text":"AOB","fontSize":15,"align":"left","baseline":"alphabetic","color":"#111"},"encoding":{"x":{"datum":0.63,"type":"quantitative"},"y":{"datum":-6.5,"type":"quantitative"}}},
   {"data":{"values":[{}]},"mark":{"type":"text","text":"amoA","fontSize":15,"fontStyle":"italic","align":"left","baseline":"alphabetic","color":"#111"},"encoding":{"x":{"datum":3.86,"type":"quantitative"},"y":{"datum":-6.5,"type":"quantitative"}}}
  ]},
 {"width":89,"height":165,"title":{"text":"nxrB","fontStyle":"italic","fontSize":15,"fontWeight":"normal","color":"#111","offset":-3.9},
  "layer":[
   {"data":{"name":"bands"},"transform":[{"filter":"datum.s=='3E'"}],"mark":{"type":"rect","color":"#e6e6e6"},"encoding":{"y":{"field":"y1","type":"quantitative","scale":{"domain":[0,50],"reverse":true,"nice":false,"zero":false},"axis":{"values":[10,20,30,40],"title":null}},"y2":{"field":"y2"}}},
   {"data":{"name":"pts"},"transform":[{"filter":"datum.s=='3E'&&datum.g=='nxrB'&&isValid(datum.lo)"}],"mark":{"type":"rule","color":"#333","strokeWidth":0.8},"encoding":{"x":{"field":"lo","type":"quantitative","scale":{"domain":[0,8],"nice":false,"zero":false},"axis":{"orient":"top","values":[0,2,4,6,8],"title":"(log₁₀ gene copy/gram)"}},"x2":{"field":"v"},"y":{"field":"d","type":"quantitative"}}},
   {"data":{"name":"pts"},"transform":[{"filter":"datum.s=='3E'&&datum.g=='nxrB'&&isValid(datum.lo)"}],"mark":{"type":"tick","orient":"vertical","size":4,"thickness":0.8,"color":"#333"},"encoding":{"x":{"field":"lo","type":"quantitative"},"y":{"field":"d","type":"quantitative"}}},
   {"data":{"name":"pts"},"transform":[{"filter":"datum.s=='3E'&&datum.g=='nxrB'&&datum.k=='n'"}],"mark":{"type":"point","shape":"circle","filled":false,"size":13,"stroke":"#8c8c8c","strokeWidth":0.7,"opacity":1},"encoding":{"x":{"field":"v","type":"quantitative"},"y":{"field":"d","type":"quantitative"}}},
   {"data":{"name":"pts"},"transform":[{"filter":"datum.s=='3E'&&datum.g=='nxrB'&&datum.k=='d'"}],"mark":{"type":"circle","size":17,"color":"#111","opacity":1},"encoding":{"x":{"field":"v","type":"quantitative"},"y":{"field":"d","type":"quantitative"}}},
   {"data":{"values":[{}]},"mark":{"type":"text","text":"d","fontSize":13,"fontWeight":"bold","align":"left","baseline":"alphabetic","color":"#111"},"encoding":{"x":{"datum":0.25,"type":"quantitative"},"y":{"datum":2.6,"type":"quantitative"}}}
  ]},
 {"width":89,"height":165,"title":{"text":"nirK","fontStyle":"italic","fontSize":15,"fontWeight":"normal","color":"#111","offset":-3.9},
  "layer":[
   {"data":{"name":"bands"},"transform":[{"filter":"datum.s=='3E'"}],"mark":{"type":"rect","color":"#e6e6e6"},"encoding":{"y":{"field":"y1","type":"quantitative","scale":{"domain":[0,50],"reverse":true,"nice":false,"zero":false},"axis":{"values":[10,20,30,40],"title":null}},"y2":{"field":"y2"}}},
   {"data":{"name":"pts"},"transform":[{"filter":"datum.s=='3E'&&datum.g=='nirK'&&isValid(datum.lo)"}],"mark":{"type":"rule","color":"#333","strokeWidth":0.8},"encoding":{"x":{"field":"lo","type":"quantitative","scale":{"domain":[0,8],"nice":false,"zero":false},"axis":{"orient":"top","values":[0,2,4,6,8],"title":"(log₁₀ gene copy/gram)"}},"x2":{"field":"v"},"y":{"field":"d","type":"quantitative"}}},
   {"data":{"name":"pts"},"transform":[{"filter":"datum.s=='3E'&&datum.g=='nirK'&&isValid(datum.lo)"}],"mark":{"type":"tick","orient":"vertical","size":4,"thickness":0.8,"color":"#333"},"encoding":{"x":{"field":"lo","type":"quantitative"},"y":{"field":"d","type":"quantitative"}}},
   {"data":{"name":"pts"},"transform":[{"filter":"datum.s=='3E'&&datum.g=='nirK'&&datum.k=='n'"}],"mark":{"type":"point","shape":"circle","filled":false,"size":13,"stroke":"#8c8c8c","strokeWidth":0.7,"opacity":1},"encoding":{"x":{"field":"v","type":"quantitative"},"y":{"field":"d","type":"quantitative"}}},
   {"data":{"name":"pts"},"transform":[{"filter":"datum.s=='3E'&&datum.g=='nirK'&&datum.k=='d'"}],"mark":{"type":"circle","size":17,"color":"#111","opacity":1},"encoding":{"x":{"field":"v","type":"quantitative"},"y":{"field":"d","type":"quantitative"}}},
   {"data":{"values":[{}]},"mark":{"type":"text","text":"e","fontSize":13,"fontWeight":"bold","align":"left","baseline":"alphabetic","color":"#111"},"encoding":{"x":{"datum":0.25,"type":"quantitative"},"y":{"datum":2.6,"type":"quantitative"}}}
  ]},
 {"width":89,"height":165,"title":{"text":"nirS","fontStyle":"italic","fontSize":15,"fontWeight":"normal","color":"#111","offset":-3.9},
  "layer":[
   {"data":{"name":"bands"},"transform":[{"filter":"datum.s=='3E'"}],"mark":{"type":"rect","color":"#e6e6e6"},"encoding":{"y":{"field":"y1","type":"quantitative","scale":{"domain":[0,50],"reverse":true,"nice":false,"zero":false},"axis":{"values":[10,20,30,40],"title":null}},"y2":{"field":"y2"}}},
   {"data":{"name":"pts"},"transform":[{"filter":"datum.s=='3E'&&datum.g=='nirS'&&isValid(datum.lo)"}],"mark":{"type":"rule","color":"#333","strokeWidth":0.8},"encoding":{"x":{"field":"lo","type":"quantitative","scale":{"domain":[0,8],"nice":false,"zero":false},"axis":{"orient":"top","values":[0,2,4,6,8],"title":"(log₁₀ gene copy/gram)"}},"x2":{"field":"v"},"y":{"field":"d","type":"quantitative"}}},
   {"data":{"name":"pts"},"transform":[{"filter":"datum.s=='3E'&&datum.g=='nirS'&&isValid(datum.lo)"}],"mark":{"type":"tick","orient":"vertical","size":4,"thickness":0.8,"color":"#333"},"encoding":{"x":{"field":"lo","type":"quantitative"},"y":{"field":"d","type":"quantitative"}}},
   {"data":{"name":"pts"},"transform":[{"filter":"datum.s=='3E'&&datum.g=='nirS'&&datum.k=='n'"}],"mark":{"type":"point","shape":"circle","filled":false,"size":13,"stroke":"#8c8c8c","strokeWidth":0.7,"opacity":1},"encoding":{"x":{"field":"v","type":"quantitative"},"y":{"field":"d","type":"quantitative"}}},
   {"data":{"name":"pts"},"transform":[{"filter":"datum.s=='3E'&&datum.g=='nirS'&&datum.k=='d'"}],"mark":{"type":"circle","size":17,"color":"#111","opacity":1},"encoding":{"x":{"field":"v","type":"quantitative"},"y":{"field":"d","type":"quantitative"}}},
   {"data":{"values":[{}]},"mark":{"type":"text","text":"f","fontSize":13,"fontWeight":"bold","align":"left","baseline":"alphabetic","color":"#111"},"encoding":{"x":{"datum":0.25,"type":"quantitative"},"y":{"datum":2.6,"type":"quantitative"}}}
  ]},
 {"width":89,"height":165,"title":{"text":"narG","fontStyle":"italic","fontSize":15,"fontWeight":"normal","color":"#111","offset":-3.9},
  "layer":[
   {"data":{"name":"bands"},"transform":[{"filter":"datum.s=='3E'"}],"mark":{"type":"rect","color":"#e6e6e6"},"encoding":{"y":{"field":"y1","type":"quantitative","scale":{"domain":[0,50],"reverse":true,"nice":false,"zero":false},"axis":{"values":[10,20,30,40],"title":null}},"y2":{"field":"y2"}}},
   {"data":{"name":"pts"},"transform":[{"filter":"datum.s=='3E'&&datum.g=='narG'&&isValid(datum.lo)"}],"mark":{"type":"rule","color":"#333","strokeWidth":0.8},"encoding":{"x":{"field":"lo","type":"quantitative","scale":{"domain":[0,8],"nice":false,"zero":false},"axis":{"orient":"top","values":[0,2,4,6,8],"title":"(log₁₀ gene copy/gram)"}},"x2":{"field":"v"},"y":{"field":"d","type":"quantitative"}}},
   {"data":{"name":"pts"},"transform":[{"filter":"datum.s=='3E'&&datum.g=='narG'&&isValid(datum.lo)"}],"mark":{"type":"tick","orient":"vertical","size":4,"thickness":0.8,"color":"#333"},"encoding":{"x":{"field":"lo","type":"quantitative"},"y":{"field":"d","type":"quantitative"}}},
   {"data":{"name":"pts"},"transform":[{"filter":"datum.s=='3E'&&datum.g=='narG'&&datum.k=='n'"}],"mark":{"type":"point","shape":"circle","filled":false,"size":13,"stroke":"#8c8c8c","strokeWidth":0.7,"opacity":1},"encoding":{"x":{"field":"v","type":"quantitative"},"y":{"field":"d","type":"quantitative"}}},
   {"data":{"name":"pts"},"transform":[{"filter":"datum.s=='3E'&&datum.g=='narG'&&datum.k=='d'"}],"mark":{"type":"circle","size":17,"color":"#111","opacity":1},"encoding":{"x":{"field":"v","type":"quantitative"},"y":{"field":"d","type":"quantitative"}}},
   {"data":{"values":[{}]},"mark":{"type":"text","text":"g","fontSize":13,"fontWeight":"bold","align":"left","baseline":"alphabetic","color":"#111"},"encoding":{"x":{"datum":0.25,"type":"quantitative"},"y":{"datum":2.6,"type":"quantitative"}}}
  ]},
  {"width":26.5,"height":165,"view":{"stroke":null},
   "title":{"text":"Site","subtitle":"4A","anchor":"start","frame":"group","align":"center","dx":-27,"dy":17.7,"fontSize":13.5,"fontWeight":"bold","color":"#111","subtitleFontSize":9.5,"subtitleFontWeight":"bold","subtitleColor":"#111","subtitlePadding":5.7,"offset":-1.3},
   "layer":[
    {"data":{"name":"bands"},"transform":[{"filter":"datum.s=='4A'"}],"mark":{"type":"rect","color":"#e6e6e6"},
     "encoding":{"x":{"datum":0,"type":"quantitative","scale":{"domain":[0,1],"nice":false,"zero":false},"axis":{"orient":"top","labels":false,"ticks":false,"domain":false,"labelPadding":0,"title":"Zone","titleFontSize":12,"titlePadding":1,"titleX":17.5}},"x2":{"datum":1.36},"y":{"field":"y1","type":"quantitative","scale":{"domain":[0,100],"reverse":true,"nice":false,"zero":false},"axis":{"values":[0,20,40,60,80,100],"labels":true,"domain":true,"ticks":true,"tickSize":3,"labelPadding":1,"title":"Depth","titleFontSize":17,"titleFontWeight":"normal","titleAngle":270,"titleAlign":"left","titleBaseline":"alphabetic","titleX":-23,"titleY":123}},"y2":{"field":"y2"}}},
    {"data":{"name":"zones"},"transform":[{"filter":"datum.s=='4A'"}],"mark":{"type":"text","fontSize":9.5,"color":"#222"},
     "encoding":{"y":{"field":"d","type":"quantitative"},"text":{"field":"z"},"x":{"datum":0.68,"type":"quantitative"}}}
   ]},
  {"width":89,"height":165,
   "layer":[
    {"data":{"name":"bands"},"transform":[{"filter":"datum.s=='4A'"}],"mark":{"type":"rect","color":"#e6e6e6"},"encoding":{"y":{"field":"y1","type":"quantitative","scale":{"domain":[0,100],"reverse":true,"nice":false,"zero":false},"axis":{"values":[20,40,60,80],"title":"(mbsf)","titleFontSize":12,"titleFontWeight":"normal","titleAngle":270,"titleAlign":"left","titleBaseline":"alphabetic","titleX":-59,"titleY":73.6}},"y2":{"field":"y2"}}},
    {"data":{"name":"pts"},"transform":[{"filter":"datum.s=='4A'&&datum.g=='16S'&&isValid(datum.lo)"}],"mark":{"type":"rule","color":"#333","strokeWidth":0.8},"encoding":{"x":{"field":"lo","type":"quantitative","scale":{"domain":[0,10],"nice":false,"zero":false},"axis":{"orient":"top","values":[0,2,4,6,8,10],"title":null}},"x2":{"field":"v"},"y":{"field":"d","type":"quantitative"}}},
    {"data":{"name":"pts"},"transform":[{"filter":"datum.s=='4A'&&datum.g=='16S'&&isValid(datum.lo)"}],"mark":{"type":"tick","orient":"vertical","size":4,"thickness":0.8,"color":"#333"},"encoding":{"x":{"field":"lo","type":"quantitative"},"y":{"field":"d","type":"quantitative"}}},
    {"data":{"name":"pts"},"transform":[{"filter":"datum.s=='4A'&&datum.g=='16S'&&datum.k=='a'"}],"mark":{"type":"circle","size":17,"color":"#9b9b9b","opacity":1},"encoding":{"x":{"field":"v","type":"quantitative"},"y":{"field":"d","type":"quantitative"}}},
    {"data":{"name":"pts"},"transform":[{"filter":"datum.s=='4A'&&datum.g=='16S'&&datum.k=='d'"}],"mark":{"type":"circle","size":17,"color":"#111","opacity":1},"encoding":{"x":{"field":"v","type":"quantitative"},"y":{"field":"d","type":"quantitative"}}},
    {"data":{"values":[{}]},"mark":{"type":"text","text":"h","fontSize":13,"fontWeight":"bold","align":"left","baseline":"alphabetic","color":"#111"},"encoding":{"x":{"datum":0.31,"type":"quantitative"},"y":{"datum":5.2,"type":"quantitative"}}}
   ]},
 {"width":89,"height":165,
  "layer":[
   {"data":{"name":"bands"},"transform":[{"filter":"datum.s=='4A'"}],"mark":{"type":"rect","color":"#e6e6e6"},"encoding":{"y":{"field":"y1","type":"quantitative","scale":{"domain":[0,100],"reverse":true,"nice":false,"zero":false},"axis":{"values":[20,40,60,80],"title":null}},"y2":{"field":"y2"}}},
   {"data":{"name":"pts"},"transform":[{"filter":"datum.s=='4A'&&datum.g=='AOA'&&isValid(datum.lo)"}],"mark":{"type":"rule","color":"#333","strokeWidth":0.8},"encoding":{"x":{"field":"lo","type":"quantitative","scale":{"domain":[0,10],"nice":false,"zero":false},"axis":{"orient":"top","values":[0,2,4,6,8,10],"title":null}},"x2":{"field":"v"},"y":{"field":"d","type":"quantitative"}}},
   {"data":{"name":"pts"},"transform":[{"filter":"datum.s=='4A'&&datum.g=='AOA'&&isValid(datum.lo)"}],"mark":{"type":"tick","orient":"vertical","size":4,"thickness":0.8,"color":"#333"},"encoding":{"x":{"field":"lo","type":"quantitative"},"y":{"field":"d","type":"quantitative"}}},
   {"data":{"name":"pts"},"transform":[{"filter":"datum.s=='4A'&&datum.g=='AOA'&&datum.k=='n'"}],"mark":{"type":"point","shape":"circle","filled":false,"size":13,"stroke":"#8c8c8c","strokeWidth":0.7,"opacity":1},"encoding":{"x":{"field":"v","type":"quantitative"},"y":{"field":"d","type":"quantitative"}}},
   {"data":{"name":"pts"},"transform":[{"filter":"datum.s=='4A'&&datum.g=='AOA'&&datum.k=='d'"}],"mark":{"type":"circle","size":17,"color":"#111","opacity":1},"encoding":{"x":{"field":"v","type":"quantitative"},"y":{"field":"d","type":"quantitative"}}},
   {"data":{"values":[{}]},"mark":{"type":"text","text":"i","fontSize":13,"fontWeight":"bold","align":"left","baseline":"alphabetic","color":"#111"},"encoding":{"x":{"datum":0.31,"type":"quantitative"},"y":{"datum":5.2,"type":"quantitative"}}}
  ]},
 {"width":89,"height":165,
  "layer":[
   {"data":{"name":"bands"},"transform":[{"filter":"datum.s=='4A'"}],"mark":{"type":"rect","color":"#e6e6e6"},"encoding":{"y":{"field":"y1","type":"quantitative","scale":{"domain":[0,100],"reverse":true,"nice":false,"zero":false},"axis":{"values":[20,40,60,80],"title":null}},"y2":{"field":"y2"}}},
   {"data":{"name":"pts"},"transform":[{"filter":"datum.s=='4A'&&datum.g=='AOB'&&isValid(datum.lo)"}],"mark":{"type":"rule","color":"#333","strokeWidth":0.8},"encoding":{"x":{"field":"lo","type":"quantitative","scale":{"domain":[0,8],"nice":false,"zero":false},"axis":{"orient":"top","values":[0,2,4,6,8],"title":null}},"x2":{"field":"v"},"y":{"field":"d","type":"quantitative"}}},
   {"data":{"name":"pts"},"transform":[{"filter":"datum.s=='4A'&&datum.g=='AOB'&&isValid(datum.lo)"}],"mark":{"type":"tick","orient":"vertical","size":4,"thickness":0.8,"color":"#333"},"encoding":{"x":{"field":"lo","type":"quantitative"},"y":{"field":"d","type":"quantitative"}}},
   {"data":{"name":"pts"},"transform":[{"filter":"datum.s=='4A'&&datum.g=='AOB'&&datum.k=='n'"}],"mark":{"type":"point","shape":"circle","filled":false,"size":13,"stroke":"#8c8c8c","strokeWidth":0.7,"opacity":1},"encoding":{"x":{"field":"v","type":"quantitative"},"y":{"field":"d","type":"quantitative"}}},
   {"data":{"name":"pts"},"transform":[{"filter":"datum.s=='4A'&&datum.g=='AOB'&&datum.k=='d'"}],"mark":{"type":"circle","size":17,"color":"#111","opacity":1},"encoding":{"x":{"field":"v","type":"quantitative"},"y":{"field":"d","type":"quantitative"}}},
   {"data":{"values":[{}]},"mark":{"type":"text","text":"j","fontSize":13,"fontWeight":"bold","align":"left","baseline":"alphabetic","color":"#111"},"encoding":{"x":{"datum":0.25,"type":"quantitative"},"y":{"datum":5.2,"type":"quantitative"}}}
  ]},
 {"width":89,"height":165,
  "layer":[
   {"data":{"name":"bands"},"transform":[{"filter":"datum.s=='4A'"}],"mark":{"type":"rect","color":"#e6e6e6"},"encoding":{"y":{"field":"y1","type":"quantitative","scale":{"domain":[0,100],"reverse":true,"nice":false,"zero":false},"axis":{"values":[20,40,60,80],"title":null}},"y2":{"field":"y2"}}},
   {"data":{"name":"pts"},"transform":[{"filter":"datum.s=='4A'&&datum.g=='nxrB'&&isValid(datum.lo)"}],"mark":{"type":"rule","color":"#333","strokeWidth":0.8},"encoding":{"x":{"field":"lo","type":"quantitative","scale":{"domain":[0,8],"nice":false,"zero":false},"axis":{"orient":"top","values":[0,2,4,6,8],"title":null}},"x2":{"field":"v"},"y":{"field":"d","type":"quantitative"}}},
   {"data":{"name":"pts"},"transform":[{"filter":"datum.s=='4A'&&datum.g=='nxrB'&&isValid(datum.lo)"}],"mark":{"type":"tick","orient":"vertical","size":4,"thickness":0.8,"color":"#333"},"encoding":{"x":{"field":"lo","type":"quantitative"},"y":{"field":"d","type":"quantitative"}}},
   {"data":{"name":"pts"},"transform":[{"filter":"datum.s=='4A'&&datum.g=='nxrB'&&datum.k=='n'"}],"mark":{"type":"point","shape":"circle","filled":false,"size":13,"stroke":"#8c8c8c","strokeWidth":0.7,"opacity":1},"encoding":{"x":{"field":"v","type":"quantitative"},"y":{"field":"d","type":"quantitative"}}},
   {"data":{"name":"pts"},"transform":[{"filter":"datum.s=='4A'&&datum.g=='nxrB'&&datum.k=='d'"}],"mark":{"type":"circle","size":17,"color":"#111","opacity":1},"encoding":{"x":{"field":"v","type":"quantitative"},"y":{"field":"d","type":"quantitative"}}},
   {"data":{"values":[{}]},"mark":{"type":"text","text":"k","fontSize":13,"fontWeight":"bold","align":"left","baseline":"alphabetic","color":"#111"},"encoding":{"x":{"datum":0.25,"type":"quantitative"},"y":{"datum":5.2,"type":"quantitative"}}}
  ]},
 {"width":89,"height":165,
  "layer":[
   {"data":{"name":"bands"},"transform":[{"filter":"datum.s=='4A'"}],"mark":{"type":"rect","color":"#e6e6e6"},"encoding":{"y":{"field":"y1","type":"quantitative","scale":{"domain":[0,100],"reverse":true,"nice":false,"zero":false},"axis":{"values":[20,40,60,80],"title":null}},"y2":{"field":"y2"}}},
   {"data":{"name":"pts"},"transform":[{"filter":"datum.s=='4A'&&datum.g=='nirK'&&isValid(datum.lo)"}],"mark":{"type":"rule","color":"#333","strokeWidth":0.8},"encoding":{"x":{"field":"lo","type":"quantitative","scale":{"domain":[0,8],"nice":false,"zero":false},"axis":{"orient":"top","values":[0,2,4,6,8],"title":null}},"x2":{"field":"v"},"y":{"field":"d","type":"quantitative"}}},
   {"data":{"name":"pts"},"transform":[{"filter":"datum.s=='4A'&&datum.g=='nirK'&&isValid(datum.lo)"}],"mark":{"type":"tick","orient":"vertical","size":4,"thickness":0.8,"color":"#333"},"encoding":{"x":{"field":"lo","type":"quantitative"},"y":{"field":"d","type":"quantitative"}}},
   {"data":{"name":"pts"},"transform":[{"filter":"datum.s=='4A'&&datum.g=='nirK'&&datum.k=='n'"}],"mark":{"type":"point","shape":"circle","filled":false,"size":13,"stroke":"#8c8c8c","strokeWidth":0.7,"opacity":1},"encoding":{"x":{"field":"v","type":"quantitative"},"y":{"field":"d","type":"quantitative"}}},
   {"data":{"name":"pts"},"transform":[{"filter":"datum.s=='4A'&&datum.g=='nirK'&&datum.k=='d'"}],"mark":{"type":"circle","size":17,"color":"#111","opacity":1},"encoding":{"x":{"field":"v","type":"quantitative"},"y":{"field":"d","type":"quantitative"}}},
   {"data":{"values":[{}]},"mark":{"type":"text","text":"l","fontSize":13,"fontWeight":"bold","align":"left","baseline":"alphabetic","color":"#111"},"encoding":{"x":{"datum":0.25,"type":"quantitative"},"y":{"datum":5.2,"type":"quantitative"}}}
  ]},
 {"width":89,"height":165,
  "layer":[
   {"data":{"name":"bands"},"transform":[{"filter":"datum.s=='4A'"}],"mark":{"type":"rect","color":"#e6e6e6"},"encoding":{"y":{"field":"y1","type":"quantitative","scale":{"domain":[0,100],"reverse":true,"nice":false,"zero":false},"axis":{"values":[20,40,60,80],"title":null}},"y2":{"field":"y2"}}},
   {"data":{"name":"pts"},"transform":[{"filter":"datum.s=='4A'&&datum.g=='nirS'&&isValid(datum.lo)"}],"mark":{"type":"rule","color":"#333","strokeWidth":0.8},"encoding":{"x":{"field":"lo","type":"quantitative","scale":{"domain":[0,8],"nice":false,"zero":false},"axis":{"orient":"top","values":[0,2,4,6,8],"title":null}},"x2":{"field":"v"},"y":{"field":"d","type":"quantitative"}}},
   {"data":{"name":"pts"},"transform":[{"filter":"datum.s=='4A'&&datum.g=='nirS'&&isValid(datum.lo)"}],"mark":{"type":"tick","orient":"vertical","size":4,"thickness":0.8,"color":"#333"},"encoding":{"x":{"field":"lo","type":"quantitative"},"y":{"field":"d","type":"quantitative"}}},
   {"data":{"name":"pts"},"transform":[{"filter":"datum.s=='4A'&&datum.g=='nirS'&&datum.k=='n'"}],"mark":{"type":"point","shape":"circle","filled":false,"size":13,"stroke":"#8c8c8c","strokeWidth":0.7,"opacity":1},"encoding":{"x":{"field":"v","type":"quantitative"},"y":{"field":"d","type":"quantitative"}}},
   {"data":{"name":"pts"},"transform":[{"filter":"datum.s=='4A'&&datum.g=='nirS'&&datum.k=='d'"}],"mark":{"type":"circle","size":17,"color":"#111","opacity":1},"encoding":{"x":{"field":"v","type":"quantitative"},"y":{"field":"d","type":"quantitative"}}},
   {"data":{"values":[{}]},"mark":{"type":"text","text":"m","fontSize":13,"fontWeight":"bold","align":"left","baseline":"alphabetic","color":"#111"},"encoding":{"x":{"datum":0.25,"type":"quantitative"},"y":{"datum":5.2,"type":"quantitative"}}}
  ]},
 {"width":89,"height":165,
  "layer":[
   {"data":{"name":"bands"},"transform":[{"filter":"datum.s=='4A'"}],"mark":{"type":"rect","color":"#e6e6e6"},"encoding":{"y":{"field":"y1","type":"quantitative","scale":{"domain":[0,100],"reverse":true,"nice":false,"zero":false},"axis":{"values":[20,40,60,80],"title":null}},"y2":{"field":"y2"}}},
   {"data":{"name":"pts"},"transform":[{"filter":"datum.s=='4A'&&datum.g=='narG'&&isValid(datum.lo)"}],"mark":{"type":"rule","color":"#333","strokeWidth":0.8},"encoding":{"x":{"field":"lo","type":"quantitative","scale":{"domain":[0,8],"nice":false,"zero":false},"axis":{"orient":"top","values":[0,2,4,6,8],"title":null}},"x2":{"field":"v"},"y":{"field":"d","type":"quantitative"}}},
   {"data":{"name":"pts"},"transform":[{"filter":"datum.s=='4A'&&datum.g=='narG'&&isValid(datum.lo)"}],"mark":{"type":"tick","orient":"vertical","size":4,"thickness":0.8,"color":"#333"},"encoding":{"x":{"field":"lo","type":"quantitative"},"y":{"field":"d","type":"quantitative"}}},
   {"data":{"name":"pts"},"transform":[{"filter":"datum.s=='4A'&&datum.g=='narG'&&datum.k=='n'"}],"mark":{"type":"point","shape":"circle","filled":false,"size":13,"stroke":"#8c8c8c","strokeWidth":0.7,"opacity":1},"encoding":{"x":{"field":"v","type":"quantitative"},"y":{"field":"d","type":"quantitative"}}},
   {"data":{"name":"pts"},"transform":[{"filter":"datum.s=='4A'&&datum.g=='narG'&&datum.k=='d'"}],"mark":{"type":"circle","size":17,"color":"#111","opacity":1},"encoding":{"x":{"field":"v","type":"quantitative"},"y":{"field":"d","type":"quantitative"}}},
   {"data":{"values":[{}]},"mark":{"type":"text","text":"n","fontSize":13,"fontWeight":"bold","align":"left","baseline":"alphabetic","color":"#111"},"encoding":{"x":{"datum":0.25,"type":"quantitative"},"y":{"datum":5.2,"type":"quantitative"}}}
  ]}
],
"config":{
 "font":"Liberation Sans",
 "view":{"stroke":"#8c8c8c","strokeWidth":1},
 "axis":{"grid":false,"labelFont":"Liberation Sans","titleFont":"Liberation Sans","labelColor":"#333","titleColor":"#111","labelFontSize":9.5,"tickColor":"#666","domainColor":"#666"},
 "axisX":{"ticks":false,"domain":false,"labelPadding":2.6,"labelFlush":false,"titleFontSize":9,"titleFontWeight":"normal","titlePadding":0.6},
 "axisY":{"labels":false,"domain":false,"ticks":true,"tickSize":-3}
}
}
